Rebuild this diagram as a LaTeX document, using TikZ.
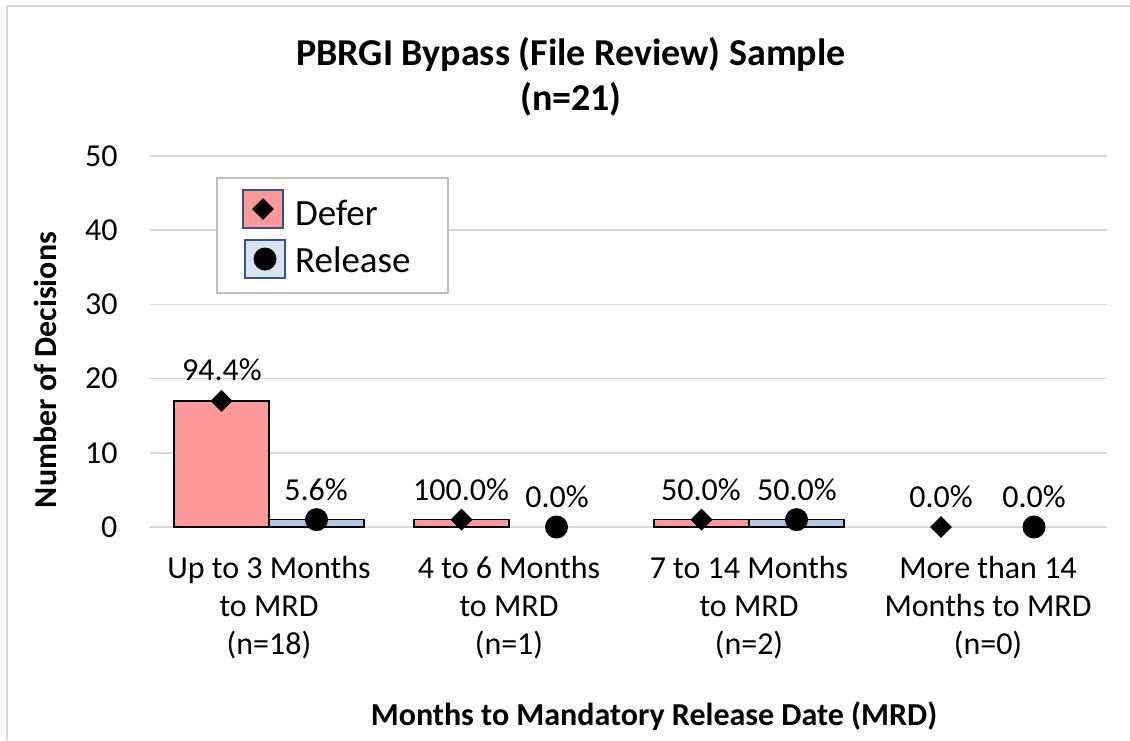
\documentclass[tikz,border=0pt]{standalone}
\usepackage{fontspec}
\setmainfont{Carlito}

\definecolor{gridgray}{RGB}{217,217,217}
\definecolor{legendgray}{RGB}{191,191,191}
\definecolor{deferred}{RGB}{255,153,153}
\definecolor{releaseblue}{RGB}{180,199,231}
\definecolor{legendblue}{RGB}{218,227,243}
\definecolor{swatchedge}{RGB}{47,85,151}

\tikzset{
  bar/.style={draw=black,line width=1.3pt},
  grid line/.style={gridgray,line width=1.5pt},
  tick label/.style={anchor=east,font=\fontsize{32}{38}\selectfont},
  pct label/.style={font=\fontsize{32}{38}\selectfont},
  cat label/.style={align=center,font=\fontsize{32}{38}\selectfont},
  axis title/.style={font=\bfseries\fontsize{32}{38}\selectfont},
  defer mark/.style={diamond,fill=black,inner sep=0pt,minimum width=22pt,minimum height=22pt},
  release mark/.style={circle,fill=black,inner sep=0pt,minimum size=23pt}
}

\usetikzlibrary{shapes.geometric}

\begin{document}
\begin{tikzpicture}[x=1pt,y=-1pt]
\useasboundingbox (0,0) rectangle (1130,740);
\fill[white] (0,0) rectangle (1130,740);
\draw[gridgray,line width=2pt] (7,740) -- (7,6) -- (1130,6);

% grid lines and y ticks
\foreach \v in {0,10,...,50} {
  \draw[grid line] (150,527-7.42*\v) -- (1107,527-7.42*\v);
  \node[tick label] (tick\v) at (121,527-7.42*\v) {\v};
}

% bars
\draw[bar,fill=deferred] (174,527) rectangle (269,400.9);
\draw[bar,fill=releaseblue] (269,527) rectangle (364,519.6);
\draw[bar,fill=deferred] (414,527) rectangle (509,519.6);
\draw[bar,fill=deferred] (654,527) rectangle (749,519.6);
\draw[bar,fill=releaseblue] (749,527) rectangle (844,519.6);

% markers
\node[defer mark] (d1) at (221.5,400.9) {};
\node[release mark] (r1) at (316.5,519.6) {};
\node[defer mark] (d2) at (461.5,519.6) {};
\node[release mark] (r2) at (556.5,527) {};
\node[defer mark] (d3) at (701.5,519.6) {};
\node[release mark] (r3) at (796.5,519.6) {};
\node[defer mark] (d4) at (941,527) {};
\node[release mark] (r4) at (1034,527) {};

% percentages
\node[pct label] (p1) at (222,370) {94.4\%};
\node[pct label] (p2) at (316,490) {5.6\%};
\node[pct label] (p3) at (461,490) {100.0\%};
\node[pct label] (p4) at (557,497) {0.0\%};
\node[pct label] (p5) at (701,490) {50.0\%};
\node[pct label] (p6) at (797,490) {50.0\%};
\node[pct label] (p7) at (941,497) {0.0\%};
\node[pct label] (p8) at (1034,497) {0.0\%};

% categories
\node[cat label] (c1) at (269,608) {Up to 3 Months\\to MRD\\(n=18)};
\node[cat label] (c2) at (509,608) {4 to 6 Months\\to MRD\\(n=1)};
\node[cat label] (c3) at (749,608) {7 to 14 Months\\to MRD\\(n=2)};
\node[cat label] (c4) at (988,608) {More than 14\\Months to MRD\\(n=0)};

% titles
\node[align=center,font=\bfseries\fontsize{38}{45}\selectfont] (title) at (571,77) {PBRGI Bypass (File Review) Sample\\(n=21)};
\node[axis title] (xtitle) at (654,716) {Months to Mandatory Release Date (MRD)};
\node[axis title,rotate=90] (ytitle) at (45,370) {Number of Decisions};

% legend
\draw[legendgray,line width=1.3pt,fill=white] (217,178) rectangle (448,293);
\draw[swatchedge,line width=1.5pt,fill=deferred] (243,190) rectangle (283,228);
\draw[swatchedge,line width=1.5pt,fill=legendblue] (245,240) rectangle (285,278);
\node[defer mark] (ld) at (263,209) {};
\node[release mark] (lr) at (265,259) {};
\node[anchor=west,font=\fontsize{37}{44}\selectfont,inner sep=0pt] (ltext1) at (295,213) {Defer};
\node[anchor=west,font=\fontsize{37}{44}\selectfont,inner sep=0pt] (ltext2) at (295,260) {Release};
\end{tikzpicture}
\end{document}
